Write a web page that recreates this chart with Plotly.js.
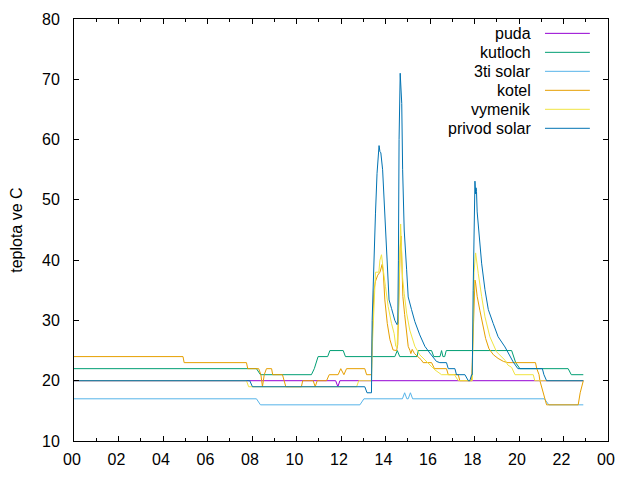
<!DOCTYPE html>
<html>
<head>
<meta charset="utf-8">
<script src="https://cdn.plot.ly/plotly-3.0.1.min.js"></script>
<style>html,body{margin:0;padding:0;background:#fff;}#chart{width:640px;height:480px;}</style>
</head>
<body>
<div id="chart"></div>
<script>
// ---- data (hours of day, temperature in °C) ----
const seriesNames = ["puda", "kutloch", "3ti solar", "kotel", "vymenik", "privod solar"];
const seriesColors = ["#9400d3", "#009e73", "#56b4e9", "#e69f00", "#f0e442", "#0072b2"];

const pudaHours = [0,11.76,11.86,11.95,22.89];
const pudaTemps = [20,20,19,20,20];

const kutlochHours = [0,8.2,8.38,10.67,10.8,10.9,10.97,11.4,11.5,12.1,12.2,14.42,14.53,14.64,15.42,15.47,16.07,16.17,16.45,16.52,16.58,16.66,16.73,19.67,19.85,20.04,22.21,22.35,22.89];
const kutlochTemps = [22,22,21,21,22,23,24,24,25,25,24,24,25,24,24,25,25,24,24,25,24,24,25,25,23,22,22,21,21];

const solar3Hours = [0,8.2,8.38,12.85,13.03,14.76,14.86,14.96,15.02,15.12,15.22,21.14,21.34,22.89];
const solar3Temps = [17,17,16,16,17,17,18,17,17,18,17,17,16,16];

const kotelHours = [0,4.9,4.95,7.75,7.81,8.3,8.4,8.47,8.55,8.65,8.88,8.93,9.37,9.52,10.22,10.28,10.75,10.84,10.93,11.35,11.47,11.87,11.99,12.13,12.25,13.07,13.15,13.37,13.4,13.44,13.48,13.55,13.65,13.75,13.85,13.9,13.97,14.08,14.2,14.34,14.5,14.55,14.6,14.66,14.7,14.74,14.78,14.86,14.95,15.02,15.1,15.14,15.2,15.3,15.45,15.6,15.69,16.07,16.2,16.74,16.82,17.27,17.34,17.87,17.9,17.94,17.98,18.02,18.05,18.12,18.24,18.39,18.5,18.65,18.85,19.06,19.3,19.5,20.74,20.8,20.9,20.94,21.1,21.24,22.66,22.75,22.89];
const kotelTemps = [24,24,23,23,22,22,21,19,21,22,22,21,21,19,19,20,20,19,20,20,21,21,22,21,22,22,21,21,27,31,35,36.5,37.5,38,39.3,38,33.4,29.5,26.8,25.1,25,26,35,42,44,40,34,31,28,25.7,25,24.5,25.2,24.5,24,23.5,23,23,22,22,21,21,20,20,23,28,33,36.7,36.2,34,31.7,29,27,25.3,24.3,23.7,23.2,23,23,22,21,20,18,16,16,18,20];

const vymenikHours = [0,7.75,7.85,12.7,12.8,13.37,13.4,13.45,13.52,13.55,13.7,13.75,13.82,13.87,13.93,14.0,14.12,14.27,14.39,14.46,14.52,14.57,14.62,14.68,14.72,14.77,14.84,14.95,15.09,15.32,15.54,15.85,16.22,16.52,17.1,17.27,17.9,17.94,17.98,18.05,18.12,18.17,18.32,18.47,18.69,18.99,19.37,19.5,19.67,19.82,20.64,20.71,22.89];
const vymenikTemps = [20,20,19,19,20,20,25,30,36,38,38,40,40.9,39,37.5,35.6,32.3,29.5,27.8,25.7,25.5,30,40,46,42,37,34.5,31.2,28.4,25.7,24.3,23.2,21.8,21,21,20,20,30,38,41.2,39,37.8,34,30.6,27.3,24.8,23.4,22.6,22.2,21,21,20,20];

const privodHours = [0,7.9,8.02,13.07,13.17,13.37,13.4,13.44,13.48,13.55,13.62,13.68,13.71,13.75,13.79,13.87,13.93,14.0,14.07,14.16,14.27,14.42,14.52,14.55,14.58,14.61,14.66,14.7,14.73,14.77,14.84,14.95,15.02,15.17,15.32,15.54,15.77,15.99,16.29,16.44,16.74,16.82,17.12,17.19,17.57,17.72,17.79,17.87,17.9,17.94,17.98,18.02,18.05,18.07,18.09,18.12,18.21,18.32,18.47,18.62,18.84,19.06,19.37,19.74,19.95,21.05,21.12,21.24,22.89];
const privodTemps = [20,20,19,19,18,18,30,35,42.3,47.8,54.4,58,59,58,57.8,55,50.6,46.1,39.5,33.4,32,30,29.3,29.5,40,60,71,67,66,55,45,38.4,33.9,31.8,29.8,27.6,25.7,24.6,23.2,23,23,22,22,21,21,20,20,21,21,35,45,53.1,51,52,51.4,48,43.9,39.5,35.1,31.8,29.5,27.3,25.6,23.1,22,22,21,20,20];

const xTickValues = [0,2,4,6,8,10,12,14,16,18,20,22,24];
const xTickLabels = ["00","02","04","06","08","10","12","14","16","18","20","22","00"];
const yTitle = "teplota ve C";

// ---- build ----
const allHours = [pudaHours, kutlochHours, solar3Hours, kotelHours, vymenikHours, privodHours];
const allTemps = [pudaTemps, kutlochTemps, solar3Temps, kotelTemps, vymenikTemps, privodTemps];

const FONT = "Liberation Sans, Arial, sans-serif";

const traces = seriesNames.map((name, i) => ({
  type: "scatter",
  mode: "lines",
  name: name,
  x: allHours[i],
  y: allTemps[i],
  line: {color: seriesColors[i], width: 1},
  showlegend: false,
  hoverinfo: "skip"
}));

// legend drawn gnuplot-style: right-aligned text, line sample on the right
const legendTextX = 0.859, legendLineX0 = 0.882, legendLineX1 = 0.966;
const legendTopY = 0.966, legendStep = 0.045;
const annotations = seriesNames.map((name, i) => ({
  xref: "paper", yref: "paper",
  x: legendTextX, y: legendTopY - i * legendStep,
  xanchor: "right", yanchor: "middle",
  text: name, showarrow: false,
  font: {family: FONT, size: 16, color: "#000"}
}));
annotations.push({
  xref: "paper", yref: "paper",
  x: -0.109, y: 0.5, xanchor: "center", yanchor: "middle",
  text: yTitle, textangle: -90, showarrow: false,
  font: {family: FONT, size: 16, color: "#000"}
});
const shapes = seriesNames.map((name, i) => ({
  type: "line", xref: "paper", yref: "paper",
  x0: legendLineX0, x1: legendLineX1,
  y0: legendTopY - i * legendStep, y1: legendTopY - i * legendStep,
  line: {color: seriesColors[i], width: 1}
}));

const layout = {
  width: 640, height: 480,
  margin: {l: 74, r: 32, t: 19, b: 39},
  paper_bgcolor: "#fff", plot_bgcolor: "#fff",
  font: {family: FONT, size: 16, color: "#000"},
  showlegend: false,
  xaxis: {
    range: [0, 24],
    tickmode: "array", tickvals: xTickValues, ticktext: xTickLabels,
    ticks: "inside", ticklen: 5, tickcolor: "#000", tickwidth: 1,
    minor: {dtick: 1, tick0: 0, ticks: "inside", ticklen: 3, tickcolor: "#000", showgrid: false},
    showline: true, linecolor: "#000", linewidth: 1, mirror: "ticks",
    showgrid: false, zeroline: false,
    ticklabelstandoff: 4, ticklabelshift: -2,
    tickfont: {family: FONT, size: 16, color: "#000"}
  },
  yaxis: {
    range: [10, 80], tickmode: "linear", tick0: 10, dtick: 10,
    ticks: "inside", ticklen: 5, tickcolor: "#000", tickwidth: 1,
    showline: true, linecolor: "#000", linewidth: 1, mirror: "ticks",
    showgrid: false, zeroline: false,
    ticklabelstandoff: 10,
    tickfont: {family: FONT, size: 16, color: "#000"}
  },
  annotations: annotations,
  shapes: shapes
};

Plotly.newPlot("chart", traces, layout, {displayModeBar: false, staticPlot: true});
</script>
</body>
</html>
